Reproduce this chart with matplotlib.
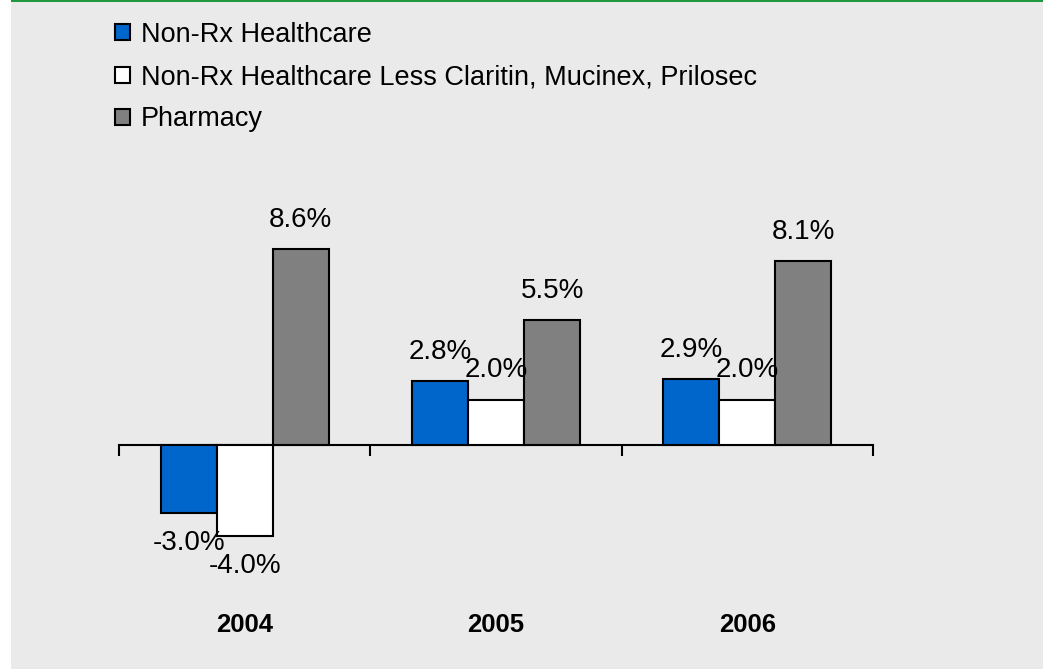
import matplotlib
matplotlib.use("Agg")
import matplotlib.pyplot as plt
from matplotlib.patches import Rectangle
import numpy as np

plt.rcParams['font.family'] = ['Liberation Sans', 'DejaVu Sans']

years = ["2004", "2005", "2006"]
series_names = [
    "Non-Rx Healthcare",
    "Non-Rx Healthcare Less Claritin, Mucinex, Prilosec",
    "Pharmacy",
]
non_rx = [-3.0, 2.8, 2.9]
non_rx_less = [-4.0, 2.0, 2.0]
pharmacy = [8.6, 5.5, 8.1]
series_values = [non_rx, non_rx_less, pharmacy]
series_colors = ["#0066CC", "#FFFFFF", "#808080"]

W, H = 1043, 669
fig = plt.figure(figsize=(W / 100, H / 100), dpi=100, facecolor="#EAEAEA")

# thin white margin at left and green rule along the top
fig.patches.append(Rectangle((0, 0), 11 / W, 1, transform=fig.transFigure,
                             facecolor="white", edgecolor="none", zorder=-1))
fig.patches.append(Rectangle((11 / W, 1 - 2 / H), 1 - 11 / W, 2 / H, transform=fig.transFigure,
                             facecolor="#1E9A3C", edgecolor="none", zorder=-1))

ax = fig.add_axes([119 / W, (H - 600) / H, 754 / W, 450 / H])
ax.set_facecolor("none")

x = np.arange(len(years))
bw = 0.223
handles = []
for i, (vals, col, name) in enumerate(zip(series_values, series_colors, series_names)):
    bars = ax.bar(x + (i - 1) * bw, vals, width=bw, color=col, edgecolor="black",
                  linewidth=1.5, label=name, zorder=3)
    handles.append(bars)
    for xi, v in zip(x + (i - 1) * bw, vals):
        off = 16 if v >= 0 else -26.5
        ax.annotate(f"{v:.1f}%", (xi, v), xytext=(0, off), textcoords="offset points",
                    ha="center", va="baseline", fontsize=20, color="black", zorder=4)

ax.set_xlim(-0.5, 2.5)
ax.set_ylim(-6.81, 12.97)

for s in ["top", "right", "left"]:
    ax.spines[s].set_visible(False)
ax.spines["bottom"].set_position(("data", 0))
ax.spines["bottom"].set_linewidth(1.5)
ax.spines["bottom"].set_zorder(2)
ax.set_yticks([])

ax.set_xticks([-0.5, 0.5, 1.5, 2.5])
ax.set_xticklabels([])
ax.tick_params(axis="x", which="major", direction="out", length=8, width=1.5)
ax.set_xticks(x, minor=True)
ax.set_xticklabels(years, minor=True, fontsize=18.5, fontweight="bold")
ax.tick_params(axis="x", which="minor", length=0, pad=121)

leg = fig.legend(handles=handles, labels=series_names, loc="upper left",
                 bbox_to_anchor=(115 / W, 1 - 22 / H), frameon=False, fontsize=19.5,
                 handlelength=0.54, handleheight=0.54, handletextpad=0.42,
                 labelspacing=0.6, borderaxespad=0, borderpad=0)
for p in leg.get_patches():
    p.set_linewidth(1.5)

fig.savefig("out.png", dpi=100, facecolor=fig.get_facecolor())
